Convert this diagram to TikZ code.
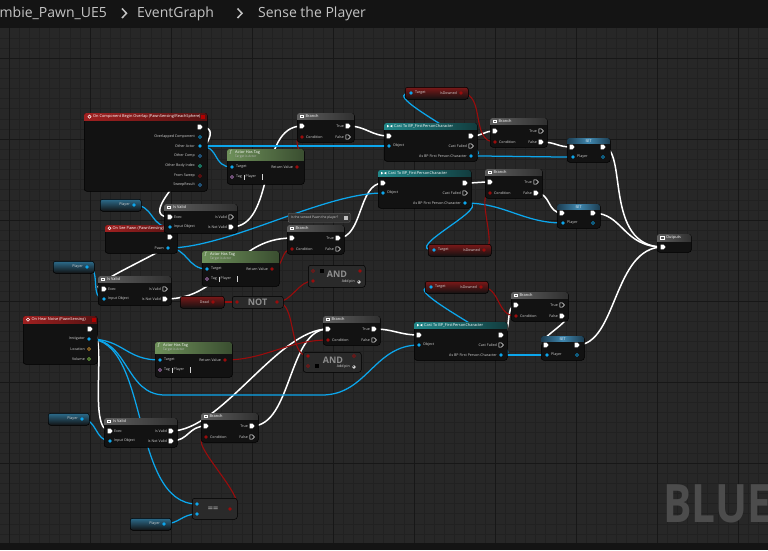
\documentclass[tikz,border=0pt]{standalone}
\usepackage{fontspec}
\setmainfont{Open Sans}
\pgfdeclarelayer{grid}
\pgfdeclarelayer{wires}
\pgfsetlayers{grid,wires,main}
\definecolor{bgc}{HTML}{272727}
\definecolor{gmin}{HTML}{212121}
\definecolor{gmaj}{HTML}{171717}
\definecolor{barc}{HTML}{141414}
\definecolor{bodyc}{HTML}{121212}
\definecolor{objc}{HTML}{0CA6EC}
\definecolor{boolc}{HTML}{9A0C0C}
\definecolor{intc}{HTML}{1FCFA8}
\definecolor{vecc}{HTML}{E8A030}
\definecolor{fltc}{HTML}{8CD850}
\definecolor{namec}{HTML}{C98AD8}
\definecolor{strc}{HTML}{2E8FD8}
\definecolor{txtc}{HTML}{D4D4D4}
\definecolor{evL}{HTML}{A02020}
\definecolor{evR}{HTML}{561212}
\definecolor{caL}{HTML}{22888A}
\definecolor{caR}{HTML}{123C3E}
\definecolor{grL}{HTML}{6E905A}
\definecolor{grR}{HTML}{3A4E30}
\definecolor{gyL}{HTML}{5E5E5E}
\definecolor{gyR}{HTML}{303030}
\definecolor{stC}{HTML}{4088B0}
\definecolor{stE}{HTML}{1C3C50}
\definecolor{plT}{HTML}{2C6C8C}
\definecolor{rdT}{HTML}{7C1818}
\definecolor{opc}{HTML}{2A2A2A}
\definecolor{optx}{HTML}{8E8E8E}
\definecolor{brc}{HTML}{C4C4C4}
\definecolor{wmc}{HTML}{4C4C4C}
\definecolor{cmtc}{HTML}{333333}
\tikzset{
  uebody/.style={draw=black, fill=bodyc, rounded corners=2.5pt, inner sep=0pt, line width=.5pt},
  ttl/.style={font=\fontsize{3.9}{4.5}\selectfont, text=white, inner sep=0pt, anchor=west},
  lbl/.style={font=\fontsize{3.6}{4}\selectfont, text=txtc, inner sep=0pt},
  exw/.style={draw=white, line width=1.5pt},
  obw/.style={draw=objc, line width=1.25pt},
  blw/.style={draw=boolc, line width=1.1pt},
  opbig/.style={font=\fontsize{9}{10}\selectfont\bfseries, text=optx, inner sep=0pt},
  crumb/.style={anchor=base west, inner sep=0pt, text=brc, font=\fontsize{14}{16}\selectfont},
}
\newcommand\exf[1]{\fill[white,shift={(#1)}] (-2.4,-2.3) -- (0.6,-2.3) -- (2.6,0) -- (0.6,2.3) -- (-2.4,2.3) -- cycle;}
\newcommand\exh[1]{\draw[white,line width=.5pt,shift={(#1)}] (-2.2,-2.1) -- (0.5,-2.1) -- (2.4,0) -- (0.5,2.1) -- (-2.2,2.1) -- cycle;}
\newcommand\dpf[2]{\fill[#1] (#2) circle (1.8pt);}
\newcommand\dph[2]{\draw[#1,line width=.55pt] (#2) circle (1.5pt);}
\newcommand\chk[2]{\fill[black] (#1-2,#2-2) rectangle (#1+2,#2+2);}
\newcommand\addpin[2]{\node[lbl,anchor=east] at (#1-4,#2) {Add pin};
  \draw[txtc,line width=.4pt] (#1,#2) circle (1.7pt);
  \draw[txtc,line width=.4pt] (#1-1,#2) -- (#1+1,#2) (#1,#2-1) -- (#1,#2+1);}
\newcommand\wire[5]{\draw[#1] (#2) .. controls +(#4,0) and +(-#5,0) .. (#3);}
\newcommand\uebox[8]{%
  \node[uebody,minimum width=#4pt,minimum height=#5pt,anchor=north west] (#1) at (#2,#3) {};
  \begin{scope}
    \clip[rounded corners=2.5pt] (#2,#3) rectangle ++(#4,#5);
    \shade[left color=#6,right color=#7] (#2,#3) rectangle ++(#4,#8);
  \end{scope}}
\newcommand\brnode[5]{%
  \uebox{#1}{#2}{#3}{57}{29}{gyL}{gyR}{6}
  \draw[white,line width=.5pt] (#2+3.5,#3+1.8) rectangle (#2+6.5,#3+4.6);
  \node[ttl] at (#2+8.5,#3+3.2) {Branch};
  \coordinate (#1-in) at (#2+5,#3+13);
  \coordinate (#1-t) at (#2+51,#3+13);
  \coordinate (#1-c) at (#2+5,#3+24);
  \coordinate (#1-f) at (#2+51,#3+24);
  \exf{#1-in}
  \csname ex#4\endcsname{#1-t}
  \csname ex#5\endcsname{#1-f}
  \dpf{boolc}{#1-c}
  \node[lbl,anchor=east] at (#2+47,#3+13) {True};
  \node[lbl,anchor=east] at (#2+47,#3+24) {False};
  \node[lbl,anchor=west] at (#2+9,#3+24) {Condition};}
\newcommand\castnode[3]{%
  \uebox{#1}{#2}{#3}{93}{38}{caL}{caR}{6}
  \fill[white] (#2+3,#3+1.8) -- (#2+5.4,#3+3.1) -- (#2+3,#3+4.4) -- cycle;
  \fill[white] (#2+8.4,#3+1.8) -- (#2+6,#3+3.1) -- (#2+8.4,#3+4.4) -- cycle;
  \node[ttl] at (#2+10,#3+3.2) {Cast To BP\_FirstPersonCharacter};
  \coordinate (#1-in) at (#2+5,#3+13);
  \coordinate (#1-out) at (#2+87,#3+13);
  \coordinate (#1-obj) at (#2+5,#3+23);
  \coordinate (#1-cf) at (#2+87,#3+23);
  \coordinate (#1-as) at (#2+87,#3+33);
  \exf{#1-in}\exf{#1-out}\exh{#1-cf}
  \dpf{objc}{#1-obj}\dpf{objc}{#1-as}
  \node[lbl,anchor=west] at (#2+9,#3+23) {Object};
  \node[lbl,anchor=east] at (#2+83,#3+23) {Cast Failed};
  \node[lbl,anchor=east] at (#2+83,#3+33) {As BP First Person Character};}
\newcommand\ivnode[5]{%
  \uebox{#1}{#2}{#3}{73}{29}{gyL}{gyR}{6}
  \draw[white,line width=.5pt] (#2+3.5,#3+1.8) rectangle (#2+6.5,#3+4.6);
  \node[ttl] at (#2+9,#3+3.2) {Is Valid};
  \coordinate (#1-ex) at (#2+6,#3+13);
  \coordinate (#1-iv) at (#2+67,#3+13);
  \coordinate (#1-io) at (#2+6,#3+23);
  \coordinate (#1-nv) at (#2+67,#3+23);
  \exf{#1-ex}\dpf{objc}{#1-io}
  \csname ex#4\endcsname{#1-iv}
  \csname ex#5\endcsname{#1-nv}
  \node[lbl,anchor=west] at (#2+10,#3+13) {Exec};
  \node[lbl,anchor=west] at (#2+10,#3+23) {Input Object};
  \node[lbl,anchor=east] at (#2+63,#3+13) {Is Valid};
  \node[lbl,anchor=east] at (#2+63,#3+23) {Is Not Valid};}
\newcommand\setnode[3]{%
  \node[uebody,minimum width=43pt,minimum height=24pt,anchor=north west] (#1) at (#2,#3) {};
  \begin{scope}
    \clip[rounded corners=2.5pt] (#2,#3) rectangle ++(43,24);
    \shade[left color=stE,right color=stE,middle color=stC] (#2,#3) rectangle ++(43,5);
  \end{scope}
  \node[lbl,text=white] at (#2+21.5,#3+2.8) {SET};
  \coordinate (#1-in) at (#2+5,#3+9);
  \coordinate (#1-out) at (#2+36,#3+9);
  \coordinate (#1-pl) at (#2+6,#3+19);
  \coordinate (#1-po) at (#2+36,#3+19);
  \exf{#1-in}\exf{#1-out}\dpf{objc}{#1-pl}\dph{objc}{#1-po}
  \node[lbl,anchor=west] at (#2+10,#3+19) {Player};}
\newcommand\ahtnode[3]{%
  \uebox{#1}{#2}{#3}{77}{35}{grL}{grR}{11}
  \node[ttl,font=\fontsize{4.2}{4.5}\selectfont\itshape] at (#2+3,#3+3.2) {f};
  \node[ttl] at (#2+8,#3+3.2) {Actor Has Tag};
  \node[lbl,anchor=west,text=white!75!black,font=\fontsize{3.2}{3.5}\selectfont] at (#2+8,#3+8) {Target is Actor};
  \coordinate (#1-t) at (#2+5,#3+18);
  \coordinate (#1-rv) at (#2+70,#3+18);
  \coordinate (#1-tag) at (#2+5,#3+28);
  \dpf{objc}{#1-t}\dpf{boolc}{#1-rv}\dph{namec}{#1-tag}
  \node[lbl,anchor=west] at (#2+9,#3+18) {Target};
  \node[lbl,anchor=east] at (#2+66,#3+18) {Return Value};
  \node[lbl,anchor=west] at (#2+9,#3+28) {Tag};
  \draw[txtc,line width=.4pt] (#2+17,#3+25.5) -- (#2+17,#3+30.5);
  \node[lbl,anchor=west] at (#2+18.5,#3+28) {Player};
  \draw[txtc,line width=.5pt] (#2+35,#3+25) -- (#2+35,#3+31);}
\newcommand\plnode[3]{%
  \node[uebody,minimum width=41pt,minimum height=12pt,anchor=north west,top color=plT,bottom color=bodyc] (#1) at (#2,#3) {};
  \coordinate (#1-o) at (#2+34,#3+6);
  \dpf{objc}{#1-o}
  \node[lbl,anchor=east] at (#2+30,#3+6) {Player};}
\newcommand\idnode[3]{%
  \node[uebody,minimum width=63pt,minimum height=12pt,anchor=north west,top color=rdT,bottom color=bodyc] (#1) at (#2,#3) {};
  \coordinate (#1-t) at (#2+6,#3+6);
  \coordinate (#1-d) at (#2+56,#3+6);
  \dpf{objc}{#1-t}\dpf{boolc}{#1-d}
  \node[lbl,anchor=west] at (#2+10,#3+6) {Target};
  \node[lbl,anchor=east] at (#2+52,#3+6) {IsDowned};}
\begin{document}
\begin{tikzpicture}[x=1pt,y=-1pt]
\useasboundingbox (0,0) rectangle (768,550);
\begin{pgfonlayer}{grid}
\fill[bgc] (0,0) rectangle (768,550);
\foreach \i in {-1,...,75} \draw[gmin,line width=.4pt] ({9+10.125*\i},28) -- ({9+10.125*\i},543);
\foreach \i in {-8,...,43} \draw[gmin,line width=.4pt] (0,{463-10.125*\i}) -- (768,{463-10.125*\i});
\foreach \i in {0,...,9} \draw[gmaj,line width=1pt] ({9+81*\i},28) -- ({9+81*\i},543);
\foreach \i in {0,...,5} \draw[gmaj,line width=1pt] (0,{463-81*\i}) -- (768,{463-81*\i});
\begin{scope}
\clip (0,28) rectangle (768,543);
\node[anchor=base west,inner sep=0pt,text=wmc,font=\fontsize{53}{60}\selectfont\bfseries] (wm) at (663,522.5) {\scalebox{0.8}[1]{BLUEPRINT}};
\end{scope}
\fill[barc] (0,0) rectangle (768,28);
\fill[black!92] (0,543) rectangle (768,550);
\node[crumb] (bc1) at (-0.5,17.5) {mbie\_Pawn\_UE5};
\draw[brc,line width=1.5pt] (122,8.5) -- (126.5,13.3) -- (122,18);
\node[crumb] (bc2) at (137,17.5) {EventGraph};
\draw[brc,line width=1.5pt] (237.5,8.5) -- (242,13.3) -- (237.5,18);
\node[crumb] (bc3) at (258,17.5) {Sense the Player};
\end{pgfonlayer}

% ---------- events
\uebox{ov}{84}{113}{123}{78}{evL}{evR}{7}
\draw[white,line width=.5pt] (89.5,116.6) circle (1.6pt);
\node[ttl] at (93,116.6) {On Component Begin Overlap (PawnSensing/ReachSphere)};
\fill[red!70!black] (201,114.6) rectangle (205,118.6);
\coordinate (ov-ex) at (200,127);
\coordinate (ov-oc) at (200,137);
\coordinate (ov-oa) at (200,146);
\coordinate (ov-ocp) at (200,156);
\coordinate (ov-obi) at (200,166);
\coordinate (ov-fs) at (200,176);
\coordinate (ov-sr) at (200,185);
\exf{ov-ex}\dph{objc}{ov-oc}\dpf{objc}{ov-oa}\dph{strc}{ov-ocp}\dph{intc}{ov-obi}\dph{boolc}{ov-fs}\dph{strc}{ov-sr}
\node[lbl,anchor=east] at (195,137) {Overlapped Component};
\node[lbl,anchor=east] at (195,146) {Other Actor};
\node[lbl,anchor=east] at (195,156) {Other Comp};
\node[lbl,anchor=east] at (195,166) {Other Body Index};
\node[lbl,anchor=east] at (195,176) {From Sweep};
\node[lbl,anchor=east] at (195,185) {SweepResult};

\uebox{see}{105}{225}{72}{28}{evL}{evR}{6}
\draw[white,line width=.5pt] (109.5,228.2) circle (1.5pt);
\node[ttl] at (112.5,228.2) {On See Pawn (PawnSensing)};
\fill[red!70!black] (172,226.3) rectangle (175.5,229.8);
\coordinate (see-ex) at (170,237);
\coordinate (see-pn) at (168,248);
\exf{see-ex}\dpf{objc}{see-pn}
\node[lbl,anchor=east] at (164,248) {Pawn};

\uebox{hear}{23}{316}{74}{48}{evL}{evR}{7}
\draw[white,line width=.5pt] (28,319.6) circle (1.6pt);
\node[ttl] at (31.5,319.6) {On Hear Noise (PawnSensing)};
\fill[red!70!black] (91.5,317.6) rectangle (95.5,321.6);
\coordinate (hear-ex) at (90,329);
\coordinate (hear-in) at (89,339);
\coordinate (hear-loc) at (89,349);
\coordinate (hear-vol) at (89,359);
\exf{hear-ex}\dpf{objc}{hear-in}\dph{vecc}{hear-loc}\dph{fltc}{hear-vol}
\node[lbl,anchor=east] at (85,339) {Instigator};
\node[lbl,anchor=east] at (85,349) {Location};
\node[lbl,anchor=east] at (85,359) {Volume};

% ---------- flow nodes
\brnode{b1}{297}{113}{f}{h}
\brnode{b2}{490}{118}{h}{f}
\brnode{b3}{485}{169}{h}{f}
\brnode{b4}{287}{225}{f}{h}
\brnode{b5}{323}{316}{f}{h}
\brnode{b6}{511}{292}{h}{f}
\brnode{b7}{201}{413}{f}{h}
\castnode{c1}{384}{123}
\castnode{c2}{378}{170}
\castnode{c3}{414}{322}
\ivnode{iv1}{164}{204}{h}{f}
\ivnode{iv2}{98}{276}{h}{f}
\ivnode{iv3}{104}{418}{f}{f}
\setnode{s1}{567}{138}
\setnode{s2}{557}{204}
\setnode{s3}{541}{336}
\ahtnode{a1}{227}{149}
\ahtnode{a2}{202}{251}
\ahtnode{a3}{155}{342}
\plnode{p1}{100}{199}
\plnode{p2}{53}{261}
\plnode{p3}{48}{413}
\plnode{p4}{130}{518}
\idnode{d1}{405}{87}
\idnode{d2}{428}{244}
\idnode{d3}{425}{281}

\uebox{out}{657}{234}{34}{18}{gyL}{gyR}{7}
\draw[white,line width=.4pt] (660.5,235.8) rectangle (664.5,239.2);
\node[ttl] at (666,237.5) {Outputs};
\coordinate (out-in) at (663,247);
\exf{out-in}

\node[draw=black!60,fill=cmtc,rounded corners=1pt,minimum width=62pt,minimum height=9pt,anchor=north west,inner sep=0pt] (cmt) at (288,213) {};
\node[lbl,anchor=west,font=\fontsize{3.3}{3.5}\selectfont] at (291,217.5) {Is the sensed Pawn the player?};
\fill[black!25] (344,215.5) rectangle (348,219.5);

% ---------- operators
\node[uebody,minimum width=44pt,minimum height=12pt,anchor=north west,top color=rdT,bottom color=bodyc] (dead) at (180,296) {};
\coordinate (dead-o) at (213,302);
\dpf{boolc}{dead-o}
\node[lbl,anchor=east] at (209,302) {Dead};

\node[uebody,fill=opc,minimum width=51pt,minimum height=12pt,anchor=north west] (notn) at (232,296) {};
\node[opbig] at (257.5,302) {NOT};
\coordinate (not-i) at (237,302);
\coordinate (not-o) at (277,302);
\dpf{boolc}{not-i}\dpf{boolc}{not-o}

\node[uebody,fill=opc,minimum width=57pt,minimum height=22pt,anchor=north west] (and1) at (308,265) {};
\node[opbig] at (337,274.5) {AND};
\coordinate (and1-a) at (313,271);
\coordinate (and1-b) at (313,281);
\coordinate (and1-o) at (360,271);
\dph{boolc}{and1-a}\chk{322}{271}\dpf{boolc}{and1-b}\dpf{boolc}{and1-o}
\addpin{359}{282}

\node[uebody,fill=opc,minimum width=58pt,minimum height=20pt,anchor=north west] (and2) at (303,352) {};
\node[opbig] at (333,360.5) {AND};
\coordinate (and2-a) at (308,356);
\coordinate (and2-b) at (308,366);
\coordinate (and2-o) at (354,356);
\dpf{boolc}{and2-a}\dph{boolc}{and2-b}\chk{317}{366}\dph{boolc}{and2-o}
\addpin{354}{367}

\node[uebody,fill=opc,minimum width=45pt,minimum height=21pt,anchor=north west] (eqn) at (192,498) {};
\node[opbig] at (213,509) {==};
\coordinate (eq-a) at (197,504);
\coordinate (eq-b) at (197,514);
\coordinate (eq-o) at (230,509);
\dpf{objc}{eq-a}\dpf{objc}{eq-b}\dpf{boolc}{eq-o}

\coordinate (rr1) at (165,395);
\coordinate (rr2) at (322,395);

% ---------- wires
\begin{pgfonlayer}{wires}
\wire{exw}{ov-ex}{iv1-ex}{45}{45}
\wire{exw}{iv1-nv}{b1-in}{45}{45}
\wire{exw}{b1-t}{c1-in}{18}{18}
\wire{exw}{c1-out}{b2-in}{12}{12}
\wire{exw}{b2-f}{s1-in}{15}{15}
\wire{exw}{s1-out}{out-in}{25}{60}
\wire{exw}{b4-t}{c2-in}{25}{25}
\wire{exw}{c2-out}{b3-in}{10}{10}
\wire{exw}{b3-f}{s2-in}{15}{15}
\wire{exw}{s2-out}{out-in}{30}{40}
\wire{exw}{see-ex}{iv2-ex}{35}{35}
\wire{exw}{iv2-nv}{b4-in}{60}{60}
\wire{exw}{hear-ex}{iv3-ex}{20}{24}
\wire{exw}{iv3-iv}{b5-in}{50}{50}
\wire{exw}{iv3-nv}{b7-in}{18}{18}
\wire{exw}{b7-t}{b5-in}{40}{40}
\wire{exw}{b5-t}{c3-in}{20}{20}
\wire{exw}{c3-out}{b6-in}{12}{12}
\wire{exw}{b6-f}{s3-in}{20}{20}
\wire{exw}{s3-out}{out-in}{40}{50}
\wire{obw}{p1-o}{iv1-io}{20}{20}
\wire{obw}{ov-oa}{a1-t}{20}{20}
\wire{obw}{ov-oa}{c1-obj}{60}{60}
\wire{obw}{c1-as}{d1-t}{40}{40}
\wire{obw}{c1-as}{s1-pl}{30}{30}
\wire{obw}{c2-as}{d2-t}{35}{35}
\wire{obw}{c2-as}{s2-pl}{40}{40}
\wire{obw}{see-pn}{a2-t}{20}{20}
\wire{obw}{see-pn}{c2-obj}{60}{60}
\wire{obw}{p2-o}{iv2-io}{15}{15}
\wire{obw}{hear-in}{a3-t}{35}{35}
\draw[obw] (hear-in) .. controls +(40,0) and +(-40,0) .. (rr1) -- (rr2) .. controls +(45,0) and +(-45,0) .. (c3-obj);
\wire{obw}{hear-in}{eq-a}{61}{67}
\wire{obw}{c3-as}{d3-t}{40}{40}
\wire{obw}{c3-as}{s3-pl}{20}{20}
\wire{obw}{p3-o}{iv3-io}{15}{15}
\wire{obw}{p4-o}{eq-b}{15}{15}
\wire{blw}{a1-rv}{b1-c}{15}{15}
\wire{blw}{d1-d}{b2-c}{25}{25}
\wire{blw}{d2-d}{b3-c}{15}{15}
\wire{blw}{a2-rv}{b4-c}{12}{12}
\wire{blw}{dead-o}{not-i}{8}{8}
\wire{blw}{not-o}{and1-b}{15}{15}
\wire{blw}{not-o}{and2-a}{20}{20}
\wire{blw}{a3-rv}{b5-c}{40}{40}
\wire{blw}{d3-d}{b6-c}{20}{20}
\wire{blw}{eq-o}{b7-c}{30}{25}
\end{pgfonlayer}
\end{tikzpicture}
\end{document}
